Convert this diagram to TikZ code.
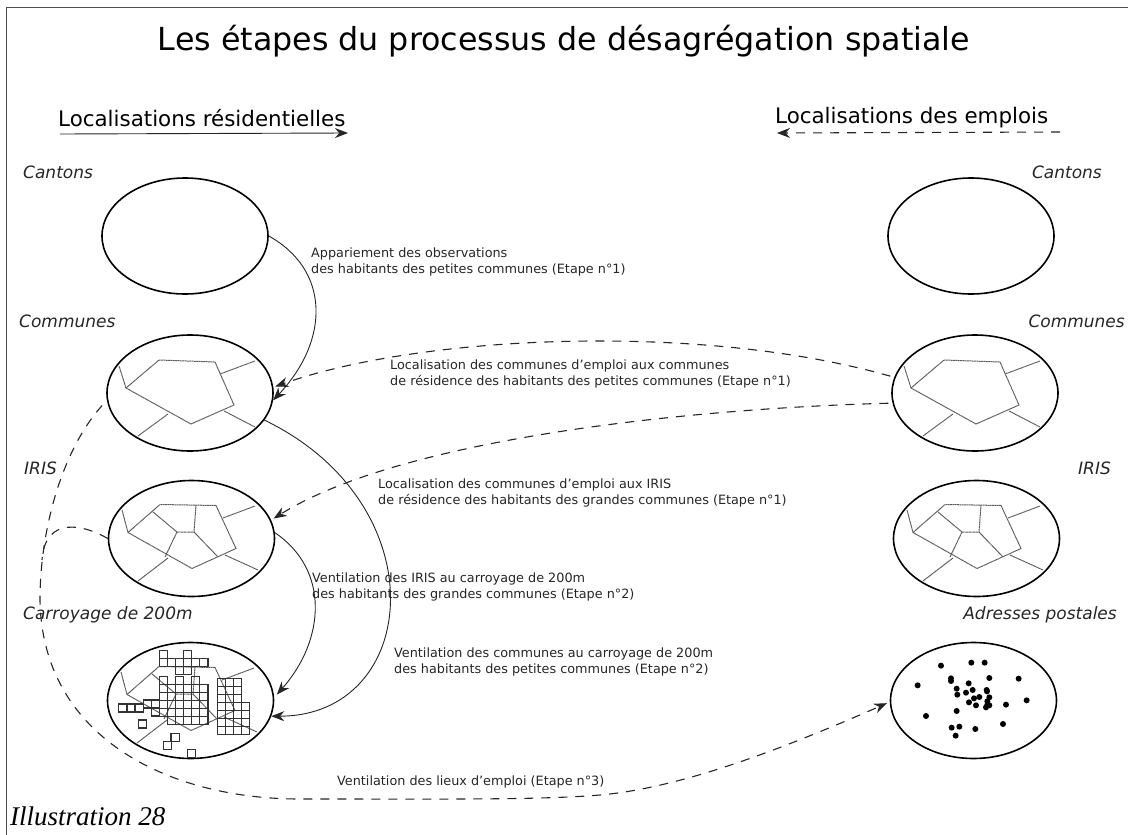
\documentclass[tikz,border=0pt]{standalone}
\usepackage{fontspec}
\setmainfont{DejaVu Sans}
\newfontfamily\legendefont{Liberation Serif}
\usetikzlibrary{shapes.geometric, arrows.meta}

\tikzset{
    zone/.style={ellipse, draw, line width=1.6pt, minimum width=166pt, minimum height=116pt, inner sep=0pt},
    titre/.style={font=\fontsize{31.7}{38}\selectfont, inner sep=0pt},
    sens/.style={font=\fontsize{21.4}{25}\selectfont, inner sep=0pt},
    echelle/.style={font=\fontsize{17}{20}\selectfont\itshape, inner sep=0pt, text=black!85},
    note/.style={font=\fontsize{12.8}{16}\selectfont, inner sep=0pt, align=left, anchor=west, text=black!85},
    limite/.style={black!65, line width=1pt, dash pattern=on 1pt off 0.4pt},
    carreau/.style={draw=black!80, line width=1.2pt},
    plein/.style={line width=0.9pt, draw=black!85, -{Stealth[length=13pt, width=10pt]}},
    tirets/.style={plein, line width=1.1pt, dash pattern=on 9pt off 8pt},
}

% Contours dessines autour du centre de l'ellipse
\newcommand{\decoupageCommunes}{
    \draw[limite] (-64,-5) -- (-31,-33) -- (25,-31) -- (44,12) -- (1,31) -- cycle;
    \draw[limite] (-64,-5) -- (-71,-27);
    \draw[limite] (30,-19) -- (65,-32);
    \draw[limite] (34,18) -- (65,34);
    \draw[limite] (-22,21) -- (-52,43);
}
\newcommand{\decoupageIris}{
    \draw[limite] (-63.5,-6) -- (-31.5,-34) -- (24.5,-33) -- (44.5,10) -- (0.5,30) -- cycle;
    \draw[limite] (-38.5,-26.5) -- (-14.5,-6.5) -- (2.5,-6.5) -- (4.5,-33.5);
    \draw[limite] (2.5,-6.5) -- (26.5,18.5);
    \draw[limite] (-14.5,-6.5) -- (-26.5,18.5);
    \draw[limite] (-63.5,-6) -- (-69.5,-28.5);
    \draw[limite] (31.5,-20.5) -- (63.5,-32.5);
    \draw[limite] (33.5,16.5) -- (66.5,31.5);
    \draw[limite] (-23.5,19.5) -- (-53.5,42.5);
}

\begin{document}
\begin{tikzpicture}[x=1pt, y=-1pt]
    \useasboundingbox (0,0) rectangle (1128,835);

    % Cadre ouvert
    \coordinate (CadreBas) at (6,835);
    \coordinate (CadreCoin) at (6,7);
    \coordinate (CadreDroit) at (1128,7);
    \draw[black!70, line width=1pt] (CadreBas) -- (CadreCoin) -- (CadreDroit);

    % Titres
    \node[titre, anchor=base] (Titre) at (564,50) {Les étapes du processus de désagrégation spatiale};
    \node[sens, anchor=base west] (SensG) at (58,126) {Localisations résidentielles};
    \node[sens, anchor=base west] (SensD) at (775,123) {Localisations des emplois};
    \node[titre, anchor=base west, font=\legendefont\itshape\fontsize{27}{30}\selectfont] (Legende) at (10,825) {Illustration 28};

    % Les ellipses
    \node[zone] (CantonsG) at (185,236) {};
    \node[zone] (CommunesG) at (190,393) {};
    \node[zone] (IrisG) at (191.5,538.5) {};
    \node[zone] (CarroyageG) at (190.5,700.5) {};
    \node[zone] (CantonsD) at (971,236) {};
    \node[zone] (CommunesD) at (975,393) {};
    \node[zone] (IrisD) at (976.5,538.5) {};
    \node[zone] (AdressesD) at (973.5,700.5) {};

    % Les echelles
    \node[echelle, anchor=west] (LabCantonsG) at (23,172) {Cantons};
    \node[echelle, anchor=west] (LabCommunesG) at (19,321) {Communes};
    \node[echelle, anchor=west] (LabIrisG) at (24,468) {IRIS};
    \node[echelle, anchor=west] (LabCarroyageG) at (23,615) {Carroyage de 200m};
    \node[echelle, anchor=east] (LabCantonsD) at (1102,172) {Cantons};
    \node[echelle, anchor=east] (LabCommunesD) at (1125,321) {Communes};
    \node[echelle, anchor=east] (LabIrisD) at (1111,468) {IRIS};
    \node[echelle, anchor=east] (LabAdressesD) at (1117,615) {Adresses postales};

    % Les decoupages
    \begin{scope}[shift={(CommunesG.center)}] \decoupageCommunes \end{scope}
    \begin{scope}[shift={(CommunesD.center)}] \decoupageCommunes \end{scope}
    \begin{scope}[shift={(IrisG.center)}] \decoupageIris \end{scope}
    \begin{scope}[shift={(IrisD.center)}] \decoupageIris \end{scope}
    \begin{scope}[shift={(CarroyageG.center)}] \decoupageIris \end{scope}

    % Les carreaux de 200m
    \begin{scope}[shift={(159.3,650.7)}, x=8.1pt, y=-8pt]
        \foreach \col/\lig in {0/0, 3/0, 0/1, 1/1, 2/1, 3/1, 4/1, 5/1, 2/2, 3/2, 0/3.25, 2/3.25, 4/3.25}
            \draw[carreau] (\col,\lig) rectangle +(1,1);
        \foreach \col in {0, ..., 5}
            \foreach \lig in {4.25, 5.25, 6.25, 7.25}
                \draw[carreau] (\col,\lig) rectangle +(1,1);
        \foreach \col in {1, ..., 5}
            \draw[carreau] (\col,8.25) rectangle +(1,1);
        \foreach \col in {7.15, 8.15, 9.15}
            \foreach \lig in {3.45, ..., 9.45}
                \draw[carreau] (\col,\lig) rectangle +(1,1);
        \foreach \lig in {6.45, 7.45, 8.45, 9.45}
            \draw[carreau] (10.15,\lig) rectangle +(1,1);
        \foreach \col/\lig in {-5.05/6.65, -4/6.65, -3/6.65, -2/6.15, -1/6.15, -1/7.15, -2.6/8.65, 1.45/10.35, 0.5/11.35, 3.5/12.35}
            \draw[carreau] (\col,\lig) rectangle +(1,1);
    \end{scope}

    % Les adresses
    \begin{scope}[shift={(870,620)}, x=0.3333pt, y=-0.3333pt]
        \foreach \dx/\dy in {213/137, 304/128, 344/128, 143/196, 243/175, 243/183, 296/190, 358/174, 446/176,
                260/206, 262/224, 288/218, 308/210, 350/210, 351/214, 358/232, 352/244, 312/235, 328/231,
                297/247, 318/256, 348/262, 358/256, 352/255, 408/254, 470/241, 260/273, 168/288, 245/323,
                268/320, 316/327, 399/312, 257/347}
            \fill (\dx,\dy) circle (9);
    \end{scope}

    % Les fleches du haut
    \coordinate (DebutG) at (60,134);
    \coordinate (FinG) at (348,133);
    \coordinate (DebutD) at (1060,132);
    \coordinate (FinD) at (777,133);
    \draw[plein] (DebutG) -- (FinG);
    \draw[tirets] (DebutD) -- (FinD);

    % Les liaisons
    \draw[plein] (CantonsG.east) .. controls (330,270) and (330,340) .. (CommunesG.-5);
    \draw[plein] (CommunesG.-20) .. controls (440,505) and (420,716) .. (CarroyageG.-11);
    \draw[plein, shorten >=4pt] (IrisG.4) .. controls (330,570) and (325,640) .. (CarroyageG.2);
    \draw[tirets, shorten <=4pt, shorten >=2pt] (CommunesD.169) .. controls (700,322) and (420,335) .. (CommunesG.4);
    \draw[tirets, shorten <=4pt, shorten >=3pt] (CommunesD.187) .. controls (700,408) and (404,437) .. (IrisG.13);
    \draw[tirets, shorten <=7pt, shorten >=3pt] (CommunesG.185) .. controls (62,450) and (40,530) .. (40,600)
        .. controls (42,735) and (165,799) .. (300,799)
        .. controls (450,799) and (540,800) .. (600,795)
        .. controls (680,788) and (780,750) .. (AdressesD.181);
    \draw[tirets, -] (IrisG.west) .. controls (85,525) and (45,515) .. (42,560);

    % Les commentaires
    \node[note] (NoteA) at (311,262) {Appariement des observations\\des habitants des petites communes (Etape n°1)};
    \node[note] (NoteB) at (390,374) {Localisation des communes d'emploi aux communes\\de résidence des habitants des petites communes (Etape n°1)};
    \node[note] (NoteC) at (378,493) {Localisation des communes d'emploi aux IRIS\\de résidence des habitants des grandes communes (Etape n°1)};
    \node[note] (NoteD) at (312,587) {Ventilation des IRIS au carroyage de 200m\\des habitants des grandes communes (Etape n°2)};
    \node[note] (NoteE) at (394,662) {Ventilation des communes au carroyage de 200m\\des habitants des petites communes (Etape n°2)};
    \node[note] (NoteF) at (337,782) {Ventilation des lieux d'emploi (Etape n°3)};
\end{tikzpicture}
\end{document}
